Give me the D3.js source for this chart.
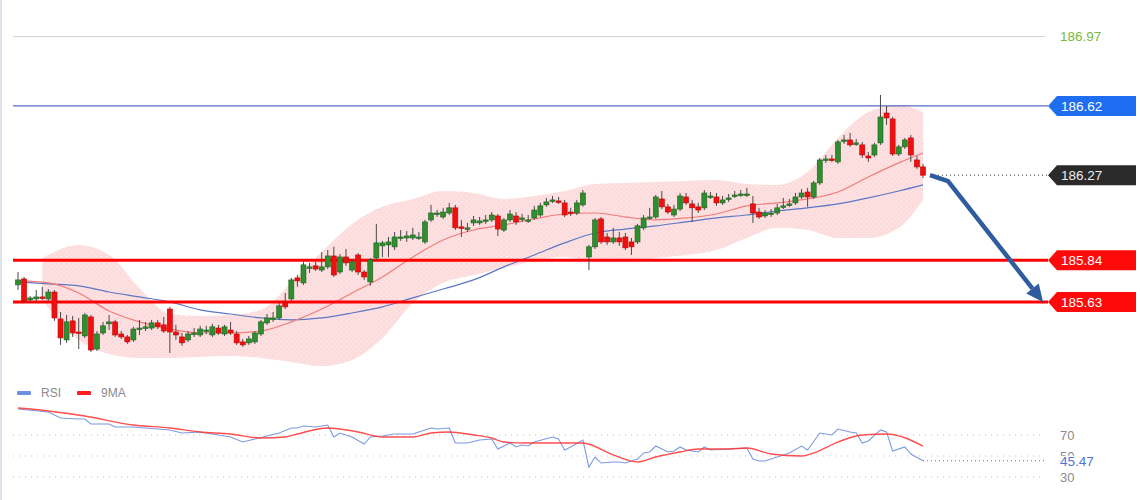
<!DOCTYPE html>
<html>
<head>
<meta charset="utf-8">
<script src="https://cdn.jsdelivr.net/npm/d3@7"></script>
<style>
  html, body { margin: 0; padding: 0; background: #fff; }
  svg { display: block; font-family: "Liberation Sans", Arial, sans-serif; }
</style>
</head>
<body>
<div id="chart"></div>
<script>
// candles: [open, high, low, close]
const ohlc = [
  [185.716,185.781,185.690,185.741],[185.746,185.756,185.625,185.635],[185.640,185.660,185.630,185.650],[185.645,185.690,185.635,185.655],
  [185.655,185.706,185.640,185.650],[185.645,185.695,185.635,185.680],[185.680,185.690,185.534,185.549],[185.544,185.579,185.413,185.448],
  [185.438,185.564,185.423,185.529],[185.534,185.559,185.453,185.473],[185.478,185.549,185.392,185.473],[185.458,185.574,185.448,185.564],
  [185.554,185.564,185.377,185.387],[185.392,185.483,185.382,185.468],[185.473,185.529,185.463,185.509],[185.519,185.564,185.488,185.529],
  [185.529,185.539,185.453,185.463],[185.468,185.483,185.443,185.453],[185.453,185.463,185.418,185.428],[185.438,185.504,185.428,185.493],
  [185.493,185.539,185.463,185.498],[185.498,185.529,185.483,185.504],[185.498,185.539,185.488,185.524],[185.524,185.539,185.493,185.504],
  [185.514,185.554,185.473,185.483],[185.594,185.605,185.372,185.478],[185.478,185.514,185.438,185.463],[185.453,185.473,185.408,185.423],
  [185.438,185.483,185.428,185.468],[185.468,185.498,185.453,185.473],[185.463,185.509,185.453,185.493],[185.483,185.509,185.468,185.488],
  [185.463,185.519,185.453,185.504],[185.498,185.514,185.463,185.473],[185.468,185.514,185.458,185.504],[185.488,185.529,185.463,185.473],
  [185.468,185.483,185.413,185.423],[185.428,185.443,185.403,185.413],[185.423,185.458,185.413,185.443],[185.428,185.483,185.418,185.473],
  [185.468,185.539,185.458,185.529],[185.524,185.569,185.514,185.549],[185.544,185.579,185.529,185.549],[185.549,185.625,185.539,185.610],
  [185.625,185.675,185.594,185.605],[185.645,185.751,185.635,185.741],[185.751,185.766,185.706,185.736],[185.726,185.832,185.716,185.817],
  [185.801,185.827,185.776,185.807],[185.812,185.832,185.786,185.796],[185.791,185.882,185.781,185.807],[185.807,185.892,185.796,185.862],
  [185.862,185.908,185.756,185.766],[185.781,185.872,185.771,185.857],[185.857,185.897,185.812,185.827],[185.791,185.847,185.781,185.832],
  [185.867,185.877,185.766,185.781],[185.781,185.791,185.741,185.756],[185.731,185.852,185.711,185.842],[185.852,186.024,185.842,185.928],
  [185.913,185.938,185.857,185.928],[185.918,185.958,185.857,185.933],[185.908,185.983,185.892,185.958],[185.953,185.993,185.938,185.958],
  [185.953,185.988,185.933,185.963],[185.953,186.004,185.943,185.968],[185.953,185.983,185.943,185.958],[185.933,186.044,185.923,186.034],
  [186.044,186.120,186.034,186.079],[186.074,186.094,186.059,186.079],[186.059,186.105,186.049,186.084],[186.079,186.130,186.069,186.105],
  [186.105,186.120,185.993,186.004],[186.009,186.044,185.958,186.004],[185.998,186.029,185.983,186.004],[186.029,186.064,186.014,186.044],
  [186.029,186.059,186.019,186.039],[186.039,186.069,186.024,186.044],[186.044,186.084,186.034,186.069],[186.064,186.074,185.963,185.998],
  [185.993,186.054,185.983,186.044],[186.044,186.094,186.034,186.074],[186.064,186.084,186.019,186.034],[186.049,186.074,186.034,186.054],
  [186.039,186.069,186.029,186.044],[186.054,186.115,186.044,186.094],[186.069,186.130,186.059,186.115],[186.120,186.155,186.110,186.135],
  [186.140,186.165,186.130,186.145],[186.140,186.160,186.125,186.135],[186.130,186.145,186.059,186.069],[186.084,186.105,186.064,186.079],
  [186.079,186.145,186.069,186.130],[186.120,186.195,186.110,186.180],[185.857,185.918,185.791,185.908],[185.908,186.054,185.897,186.044],
  [186.049,186.059,185.923,185.933],[185.958,185.978,185.918,185.933],[185.933,186.004,185.923,185.953],[185.953,185.983,185.913,185.933],
  [185.958,185.978,185.892,185.903],[185.933,185.953,185.867,185.908],[185.933,186.024,185.923,186.014],[186.004,186.069,185.993,186.054],
  [186.054,186.105,186.044,186.059],[186.059,186.170,186.049,186.160],[186.150,186.190,186.099,186.110],[186.110,186.125,186.074,186.084],
  [186.069,186.120,186.059,186.099],[186.099,186.180,186.089,186.165],[186.160,186.180,186.120,186.130],[186.125,186.145,186.034,186.105],
  [186.110,186.130,186.079,186.094],[186.105,186.195,186.094,186.180],[186.160,186.185,186.150,186.165],[186.160,186.180,186.115,186.130],
  [186.130,186.165,186.120,186.145],[186.150,186.175,186.135,186.155],[186.165,186.190,186.155,186.170],[186.170,186.195,186.160,186.175],
  [186.170,186.206,186.160,186.175],[186.125,186.165,186.029,186.079],[186.084,186.105,186.049,186.059],[186.064,186.094,186.054,186.079],
  [186.074,186.099,186.059,186.079],[186.079,186.125,186.069,186.105],[186.110,186.155,186.099,186.115],[186.120,186.150,186.110,186.125],
  [186.130,186.180,186.120,186.160],[186.160,186.200,186.150,186.180],[186.185,186.206,186.110,186.160],[186.160,186.241,186.150,186.231],
  [186.231,186.357,186.221,186.347],[186.347,186.372,186.332,186.352],[186.352,186.372,186.337,186.347],[186.337,186.448,186.327,186.438],
  [186.443,186.473,186.428,186.448],[186.448,186.483,186.413,186.423],[186.428,186.453,186.418,186.433],[186.423,186.438,186.357,186.372],
  [186.367,186.387,186.337,186.357],[186.372,186.433,186.362,186.423],[186.433,186.675,186.423,186.564],[186.584,186.620,186.524,186.559],
  [186.554,186.564,186.367,186.377],[186.377,186.423,186.367,186.413],[186.413,186.458,186.403,186.448],[186.458,186.473,186.337,186.372],
  [186.347,186.367,186.302,186.312],[186.312,186.327,186.256,186.270]
];

// moving averages read at every 5th candle
const maIdx = [0,5,10,15,20,25,30,35,40,45,50,55,60,65,70,75,80,85,90,95,100,105,110,115,120,125,130,135,140,145,149];
const slowMA = [185.731,185.721,185.711,185.680,185.655,185.630,185.590,185.569,185.549,185.539,185.549,185.574,185.605,185.650,185.695,
  185.741,185.807,185.867,185.928,185.978,185.998,186.014,186.034,186.054,186.069,186.089,186.105,186.125,186.155,186.190,186.221];
const fastMA = [185.736,185.726,185.675,185.584,185.529,185.493,185.473,185.473,185.483,185.529,185.594,185.675,185.756,185.857,185.943,
  185.993,186.019,186.049,186.074,186.079,186.059,186.044,186.054,186.074,186.115,186.130,186.150,186.185,186.261,186.332,186.382];

// Bollinger envelope
const bandIdx = [4,10,15,20,25,30,35,40,45,50,55,60,65,70,75,80,85,90,95,100,105,110,115,120,125,130,135,140,145,149];
const bandUpper = [185.852,185.918,185.867,185.700,185.569,185.559,185.564,185.590,185.726,185.882,186.024,186.110,186.150,186.190,186.180,
  186.150,186.165,186.190,186.226,186.231,186.236,186.241,186.246,186.226,186.221,186.286,186.458,186.589,186.625,186.589];
const bandLower = [185.640,185.438,185.367,185.347,185.347,185.352,185.357,185.347,185.327,185.306,185.337,185.448,185.625,185.726,185.766,
  185.801,185.837,185.857,185.832,185.832,185.852,185.867,185.892,185.953,186.004,185.993,185.953,185.953,186.004,186.145];

// RSI panel: [candle index, value]
const rsi = [[0,94.8],[5,91.9],[7,86.2],[10,85.2],[11,85.2],[12,80.5],[15,80.5],[16,77.6],[19,77.6],[25,74.8],[27,71.9],[30,72.9],
  [33,70.0],[35,68.1],[37,63.3],[39,66.2],[41,69.0],[43,71.9],[45,76.7],[46,76.7],[47,78.6],[49,77.6],[51,79.5],[52,68.1],[53,71.9],
  [55,68.1],[57,61.4],[58,68.1],[60,69.0],[62,71.0],[65,71.0],[67,74.8],[68,76.7],[69,75.7],[71,76.7],[72,62.4],[74,62.4],[76,65.2],
  [78,66.2],[79,56.7],[81,62.4],[82,58.6],[83,60.5],[84,59.5],[85,63.3],[88,68.1],[89,66.2],[90,55.7],[91,58.6],[93,65.2],[94,39.5],
  [95,49.0],[96,43.3],[98,44.3],[99,44.3],[100,43.3],[102,47.1],[103,52.9],[104,53.8],[105,59.5],[107,53.8],[108,54.8],[109,58.6],
  [110,55.7],[112,53.8],[113,58.6],[114,55.7],[117,56.7],[120,57.6],[121,47.1],[122,45.2],[123,45.2],[126,51.0],[127,52.9],[129,59.5],
  [130,55.7],[132,71.9],[134,70.0],[135,75.7],[137,72.9],[138,71.9],[139,62.4],[140,64.3],[142,74.8],[143,72.9],[144,54.8],[146,58.6],
  [147,51.9],[149,45.47]];
const rsiMA = [[0,95.7],[5,92.9],[11,88.1],[19,79.5],[25,76.7],[30,72.9],[35,71.0],[40,67.1],[44,68.1],[46,71.0],[51,76.7],[53,75.7],
  [56,72.9],[60,68.1],[65,68.1],[68,71.9],[71,72.9],[75,70.0],[78,67.1],[80,63.3],[84,62.4],[88,62.4],[93,62.4],[98,51.0],[102,44.3],
  [105,49.0],[109,53.8],[112,56.7],[117,56.7],[120,57.6],[124,51.9],[129,50.0],[131,52.9],[135,63.3],[139,70.0],[143,71.0],[149,59.5]];
const rsiLevels = [70, 50, 30];
const lastRsi = 45.47;

// horizontal price levels
const topLevel = 186.97;
const resistance = 186.62;
const lastPrice = 186.27;
const supports = [185.84, 185.63];

const W = 1140, H = 500;
const svg = d3.select("#chart").append("svg").attr("width", W).attr("height", H);

const x = d3.scaleLinear().domain([0, ohlc.length - 1]).range([18, 923]);
const y = d3.scaleLinear().domain([185.63, 186.97]).range([301.9, 36.6]);
const yr = d3.scaleLinear().domain([30, 70]).range([477, 435]);

const lineLeft = 13, lineRight = 1048;

// dotted pink fill for the band
const defs = svg.append("defs");
const pat = defs.append("pattern").attr("id", "bbfill")
  .attr("width", 5).attr("height", 5).attr("patternUnits", "userSpaceOnUse");
pat.append("rect").attr("width", 5).attr("height", 5).attr("fill", "#fcdcdc");
pat.append("rect").attr("x", 1).attr("y", 1).attr("width", 1).attr("height", 1).attr("fill", "#fff4f4");
pat.append("rect").attr("x", 3.5).attr("y", 3.5).attr("width", 1).attr("height", 1).attr("fill", "#fff4f4");

// frame edge on the left
svg.append("line").attr("x1", 1).attr("x2", 1).attr("y1", 0).attr("y2", H)
  .attr("stroke", "#dde2ec").attr("stroke-width", 2);

// band
const bandData = bandIdx.map((k, i) => ({ k, u: bandUpper[i], l: bandLower[i] }));
svg.append("path").datum(bandData)
  .attr("d", d3.area().x(d => x(d.k)).y0(d => y(d.l)).y1(d => y(d.u)).curve(d3.curveMonotoneX))
  .attr("fill", "url(#bbfill)");

// top reference line
svg.append("line").attr("x1", lineLeft).attr("x2", 1045)
  .attr("y1", y(topLevel)).attr("y2", y(topLevel))
  .attr("stroke", "#cfd3cb").attr("stroke-width", 1);
svg.append("text").attr("x", 1060).attr("y", y(topLevel)).attr("dy", "0.36em")
  .attr("fill", "#7cb83a").style("font-size", "13.5px").text(topLevel.toFixed(2));

// resistance line
svg.append("line").attr("x1", lineLeft).attr("x2", lineRight)
  .attr("y1", y(resistance)).attr("y2", y(resistance))
  .attr("stroke", "#2b48b8").attr("stroke-width", 1);

// moving averages
const maData = (vals) => maIdx.map((k, i) => [k, vals[i]]);
svg.append("path").datum(maData(slowMA))
  .attr("d", d3.line().x(d => x(d[0])).y(d => y(d[1])).curve(d3.curveMonotoneX))
  .attr("fill", "none").attr("stroke", "#5a78c4").attr("stroke-width", 1.2);
svg.append("path").datum(maData(fastMA))
  .attr("d", d3.line().x(d => x(d[0])).y(d => y(d[1])).curve(d3.curveMonotoneX))
  .attr("fill", "none").attr("stroke", "#f27c7c").attr("stroke-width", 1.2);

// support lines
svg.selectAll(".support").data(supports).enter().append("line")
  .attr("class", "support")
  .attr("x1", lineLeft).attr("x2", lineRight)
  .attr("y1", d => y(d)).attr("y2", d => y(d))
  .attr("stroke", "#ff0000").attr("stroke-width", 3);

// candles
const candle = svg.selectAll(".candle").data(ohlc).enter().append("g").attr("class", "candle");
candle.append("line")
  .attr("x1", (d, i) => x(i)).attr("x2", (d, i) => x(i))
  .attr("y1", d => y(d[1])).attr("y2", d => y(d[2]))
  .attr("stroke", "#4a4a4a").attr("stroke-width", 1);
candle.append("rect")
  .attr("x", (d, i) => x(i) - 2.5)
  .attr("width", 5)
  .attr("y", d => y(Math.max(d[0], d[3])))
  .attr("height", d => Math.max(1.5, Math.abs(y(d[0]) - y(d[3]))))
  .attr("fill", d => d[3] >= d[0] ? "#2f8f2f" : "#f01010")
  .attr("stroke", d => d[3] >= d[0] ? "#1e5e1e" : "#c00000")
  .attr("stroke-width", 0.6);

// last price dotted line
svg.append("line").attr("x1", 930).attr("x2", lineRight)
  .attr("y1", y(lastPrice)).attr("y2", y(lastPrice))
  .attr("stroke", "#333").attr("stroke-width", 1).attr("stroke-dasharray", "1,3");

// forecast arrow
const arrowPts = [[930, lastPrice], [948, 186.24], [1043, supports[1]]];
const ax = arrowPts.map(p => [p[0], y(p[1])]);
const tip = ax[2], prev = ax[1];
const len = Math.hypot(tip[0] - prev[0], tip[1] - prev[1]);
const ux = (tip[0] - prev[0]) / len, uy = (tip[1] - prev[1]) / len;
const base = [tip[0] - 17 * ux, tip[1] - 17 * uy];
svg.append("path")
  .attr("d", d3.line()([ax[0], ax[1], base]))
  .attr("fill", "none").attr("stroke", "#2f5c9f").attr("stroke-width", 4.5)
  .attr("stroke-linejoin", "round");
svg.append("path")
  .attr("d", d3.line()([tip, [base[0] - 8 * uy, base[1] + 8 * ux], [base[0] + 8 * uy, base[1] - 8 * ux]]) + "Z")
  .attr("fill", "#2f5c9f");

// price tags
const tags = [
  { v: resistance, fill: "#1f6ef2", text: "#fff" },
  { v: lastPrice, fill: "#2a2a2a", text: "#eee" },
  { v: supports[0], fill: "#ff0a0a", text: "#fff" },
  { v: supports[1], fill: "#ff0a0a", text: "#fff" }
];
const tag = svg.selectAll(".tag").data(tags).enter().append("g").attr("class", "tag")
  .attr("transform", d => `translate(0,${y(d.v)})`);
tag.append("path")
  .attr("d", "M1048,0 L1057,-10 L1136,-10 L1136,10 L1057,10 Z")
  .attr("fill", d => d.fill);
tag.append("text").attr("x", 1061).attr("dy", "0.36em")
  .attr("fill", d => d.text).style("font-size", "13.5px")
  .text(d => d.v.toFixed(2));

// RSI legend
const legend = [{ name: "RSI", color: "#6f8fe0", x: 17 }, { name: "9MA", color: "#ff1f1f", x: 77 }];
const lg = svg.selectAll(".lg").data(legend).enter().append("g").attr("class", "lg");
lg.append("rect").attr("x", d => d.x).attr("y", 391).attr("width", 14).attr("height", 4)
  .attr("rx", 1).attr("fill", d => d.color);
lg.append("text").attr("x", d => d.x + 24).attr("y", 397).attr("fill", "#8a8a8a")
  .style("font-size", "12px").text(d => d.name);

// RSI level lines
svg.selectAll(".rsilevel").data(rsiLevels).enter().append("line")
  .attr("class", "rsilevel")
  .attr("x1", lineLeft).attr("x2", 1045)
  .attr("y1", d => yr(d)).attr("y2", d => yr(d))
  .attr("stroke", "#cdbfae").attr("stroke-width", 1).attr("stroke-dasharray", "1,5");

// RSI lines
svg.append("path").datum(rsi)
  .attr("d", d3.line().x(d => x(d[0])).y(d => yr(d[1])))
  .attr("fill", "none").attr("stroke", "#7b9ae3").attr("stroke-width", 1.1);
svg.append("path").datum(rsiMA)
  .attr("d", d3.line().x(d => x(d[0])).y(d => yr(d[1])).curve(d3.curveMonotoneX))
  .attr("fill", "none").attr("stroke", "#ff3030").attr("stroke-width", 1.4).attr("stroke-opacity", 0.85);
svg.append("line").attr("x1", x(ohlc.length - 1)).attr("x2", 1045)
  .attr("y1", yr(lastRsi)).attr("y2", yr(lastRsi))
  .attr("stroke", "#4c74dc").attr("stroke-width", 1).attr("stroke-dasharray", "1,3");

// RSI labels (the 50 label sits partly behind the live value, as in the source)
svg.selectAll(".rsilabel").data(rsiLevels).enter().append("text")
  .attr("class", "rsilabel")
  .attr("x", 1060).attr("y", d => yr(d)).attr("dy", "0.36em")
  .attr("fill", "#8a8a8a").style("font-size", "13px").text(d => d);
svg.append("rect").attr("x", 1058).attr("y", yr(lastRsi) - 5).attr("width", 40).attr("height", 12)
  .attr("fill", "#fff");
svg.append("text").attr("x", 1060).attr("y", yr(lastRsi)).attr("dy", "0.36em")
  .attr("fill", "#4c74dc").style("font-size", "13.5px").text(lastRsi.toFixed(2));
</script>
</body>
</html>
